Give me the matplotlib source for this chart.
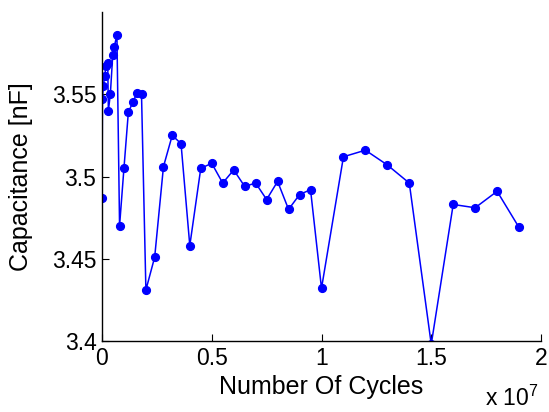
import matplotlib
matplotlib.use("Agg")
import matplotlib.pyplot as plt
from matplotlib.ticker import FuncFormatter

# number of cycles and measured capacitance (nF)
cycles = [0, 0.02e6, 0.06e6, 0.12e6, 0.18e6, 0.26e6, 0.29e6, 0.38e6, 0.49e6, 0.56e6,
          0.68e6, 0.8e6, 1.0e6, 1.2e6, 1.4e6, 1.6e6, 1.8e6, 2.0e6, 2.4e6, 2.8e6,
          3.2e6, 3.6e6, 4.0e6, 4.5e6, 5.0e6, 5.5e6, 6.0e6, 6.5e6, 7.0e6, 7.5e6,
          8.0e6, 8.5e6, 9.0e6, 9.5e6, 10e6, 11e6, 12e6, 13e6, 14e6, 15e6,
          16e6, 17e6, 18e6, 19e6]
capacitance = [3.487, 3.547, 3.555, 3.561, 3.567, 3.569, 3.540, 3.550, 3.574, 3.579,
               3.586, 3.470, 3.505, 3.539, 3.545, 3.551, 3.550, 3.431, 3.451, 3.506,
               3.525, 3.520, 3.458, 3.505, 3.508, 3.496, 3.504, 3.494, 3.496, 3.486,
               3.497, 3.480, 3.489, 3.492, 3.432, 3.512, 3.516, 3.507, 3.496, 3.398,
               3.483, 3.481, 3.491, 3.469]

x_ticks = [0, 0.5e7, 1e7, 1.5e7, 2e7]
y_ticks = [3.4, 3.45, 3.5, 3.55]

plt.rcParams['font.family'] = ['Liberation Sans', 'DejaVu Sans']
plt.rcParams['mathtext.fontset'] = 'custom'
plt.rcParams['mathtext.rm'] = 'Liberation Sans'

fig = plt.figure(figsize=(5.49, 4.12), dpi=100)
ax = fig.add_axes([102 / 549, 1 - 341 / 412, 439 / 549, 329 / 412])

ax.plot(cycles, capacitance, color='#0000ff', marker='o', markersize=5.6, linewidth=1.1)

ax.set_xlim(0, 2e7)
ax.set_ylim(3.4, 3.6)
ax.set_xticks(x_ticks)
ax.set_yticks(y_ticks)
ax.xaxis.set_major_formatter(FuncFormatter(lambda v, p: f"{v / 1e7:g}"))
ax.yaxis.set_major_formatter(FuncFormatter(lambda v, p: f"{v:g}"))

for s in ['top', 'right']:
    ax.spines[s].set_visible(False)
for s in ['left', 'bottom']:
    ax.spines[s].set_linewidth(1.0)

ax.tick_params(direction='in', length=5, width=0.8, labelsize=16.5, pad=4)

ax.set_xlabel('Number Of Cycles', fontsize=18)
ax.set_ylabel('Capacitance [nF]', fontsize=18)
ax.yaxis.set_label_coords(-0.157, 0.5)

fig.text(485 / 549, 1 - 411 / 412, 'x 10$^{7}$', fontsize=16.5, ha='left', va='bottom')

fig.savefig('out.png', dpi=100)
